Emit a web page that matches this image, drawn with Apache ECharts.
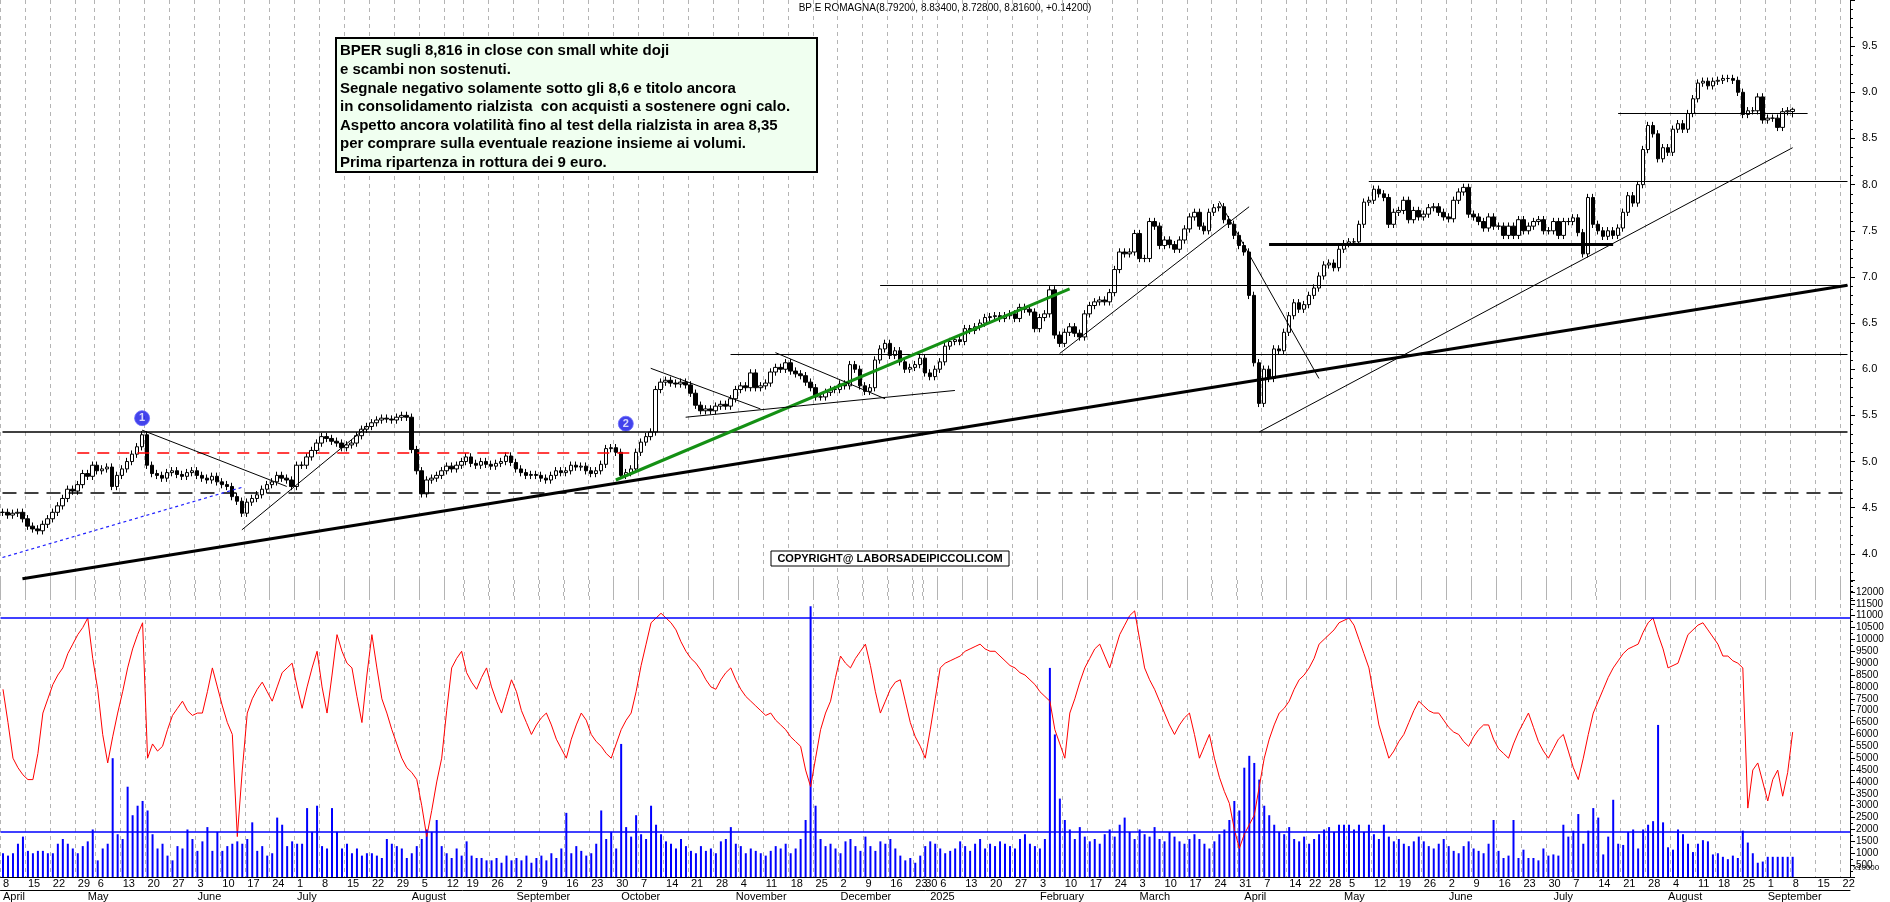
<!DOCTYPE html>
<html lang="it">
<head>
<meta charset="UTF-8">
<title>BP E ROMAGNA</title>
<script src="https://cdn.jsdelivr.net/npm/echarts@6/dist/echarts.min.js"></script>
<style>
  html, body { margin: 0; padding: 0; background: #fff; }
  #main { width: 1890px; height: 902px; }
</style>
</head>
<body>
<div id="main"></div>
<script>
// daily closes from 2024-04-08 to 2025-09-08
var closes = [
  4.45,4.42,4.44,4.45,4.38,4.30,4.27,4.25,4.32,4.38,
  4.45,4.52,4.60,4.70,4.68,4.75,4.87,4.84,4.96,4.90,
  4.92,4.94,4.73,4.85,4.92,5.00,5.08,5.16,5.29,4.96,
  4.87,4.85,4.82,4.88,4.90,4.86,4.84,4.88,4.90,4.85,
  4.82,4.80,4.84,4.78,4.75,4.73,4.62,4.57,4.44,4.56,
  4.60,4.64,4.70,4.75,4.78,4.85,4.82,4.80,4.73,4.96,
  4.96,5.05,5.12,5.20,5.27,5.25,5.22,5.20,5.15,5.18,
  5.20,5.28,5.35,5.38,5.42,5.45,5.47,5.46,5.45,5.48,
  5.50,5.48,5.13,4.90,4.65,4.80,4.82,4.85,4.90,4.95,
  4.92,4.96,5.00,5.05,4.98,4.96,5.00,4.97,4.95,4.98,
  5.00,5.06,4.99,4.92,4.88,4.85,4.86,4.85,4.82,4.80,
  4.85,4.90,4.88,4.90,4.96,4.94,4.95,4.90,4.87,4.90,
  4.97,5.14,5.15,5.10,4.85,4.88,4.92,5.10,5.21,5.27,
  5.32,5.78,5.86,5.88,5.85,5.84,5.86,5.83,5.74,5.61,
  5.55,5.57,5.55,5.60,5.62,5.60,5.68,5.78,5.82,5.80,
  5.96,5.80,5.82,5.85,5.97,6.02,6.00,6.07,5.98,5.95,
  5.93,5.86,5.80,5.70,5.70,5.75,5.78,5.78,5.84,5.82,
  6.05,6.00,5.82,5.76,5.80,6.10,6.22,6.28,6.15,6.20,
  6.08,6.00,6.02,6.05,6.12,5.96,5.92,6.00,6.08,6.25,
  6.30,6.32,6.30,6.44,6.42,6.46,6.50,6.56,6.57,6.58,
  6.55,6.58,6.60,6.55,6.67,6.65,6.62,6.44,6.56,6.60,
  6.86,6.37,6.28,6.40,6.46,6.39,6.35,6.60,6.69,6.73,
  6.75,6.73,6.83,7.08,7.27,7.25,7.27,7.47,7.20,7.20,
  7.60,7.55,7.34,7.40,7.35,7.30,7.40,7.52,7.65,7.70,
  7.55,7.50,7.70,7.75,7.76,7.62,7.57,7.45,7.34,7.27,
  6.80,6.07,5.63,6.00,5.90,6.22,6.20,6.40,6.58,6.72,
  6.65,6.70,6.80,6.88,7.01,7.13,7.15,7.10,7.30,7.36,
  7.38,7.38,7.57,7.81,7.83,7.95,7.90,7.86,7.57,7.70,
  7.72,7.83,7.62,7.72,7.65,7.68,7.75,7.76,7.70,7.65,
  7.63,7.83,7.92,7.97,7.68,7.65,7.60,7.53,7.65,7.55,
  7.55,7.45,7.55,7.45,7.62,7.50,7.55,7.60,7.62,7.50,
  7.50,7.60,7.45,7.60,7.60,7.64,7.48,7.25,7.86,7.57,
  7.50,7.44,7.50,7.45,7.53,7.70,7.88,7.80,8.00,8.38,
  8.64,8.55,8.28,8.40,8.35,8.60,8.66,8.60,8.77,8.93,
  9.10,9.12,9.07,9.12,9.13,9.15,9.15,9.13,9.00,8.76,
  8.80,8.80,8.95,8.70,8.72,8.72,8.62,8.79,8.80,8.816
];
// volumes, thousands (axis shows x10000)
var volumes = [
  1.0,0.9,1.0,1.4,1.7,1.1,1.0,1.1,1.1,1.0,
  1.0,1.4,1.6,1.4,1.2,1.0,1.3,1.5,2.0,0.7,
  1.2,1.4,5.0,1.8,1.6,3.8,2.6,3.0,3.2,2.8,
  1.8,1.2,1.4,0.9,0.7,1.3,1.2,2.0,1.6,1.1,
  1.5,2.1,1.1,1.9,1.1,1.3,1.4,1.5,1.4,1.6,
  2.3,1.1,1.3,0.9,1.0,2.5,2.2,1.3,1.5,1.4,
  1.4,2.9,1.9,3.0,1.3,1.2,2.9,1.9,1.2,1.4,
  1.0,1.2,0.9,1.0,1.0,0.9,0.8,1.6,1.4,1.3,
  1.2,0.8,1.0,1.3,1.6,2.0,1.9,2.4,1.3,1.0,
  0.8,1.2,0.9,1.5,0.9,0.8,0.8,0.7,0.7,0.8,
  0.6,0.9,0.7,0.8,0.7,0.9,0.6,0.8,0.9,0.7,
  1.0,0.8,1.2,2.7,1.0,1.3,1.1,0.9,1.0,1.4,
  2.8,1.6,1.9,1.2,5.6,2.1,1.7,2.6,1.8,1.6,
  3.0,2.2,1.8,1.5,1.4,1.2,1.6,1.3,1.1,1.0,
  1.3,1.1,1.2,1.0,1.5,1.6,2.1,1.4,1.3,1.0,
  1.2,1.1,1.0,0.9,1.1,1.3,1.2,1.4,1.0,1.2,
  1.6,2.4,11.4,3.0,1.6,1.3,1.4,1.2,1.0,1.5,
  1.6,1.3,1.1,1.7,1.3,1.1,1.5,1.4,1.6,1.2,
  0.9,0.7,0.8,0.6,0.9,1.3,1.5,1.4,1.2,1.0,
  1.1,1.2,1.5,1.3,1.1,1.4,1.6,1.2,1.4,1.3,
  1.5,1.4,1.3,1.2,1.6,1.8,1.4,1.3,1.2,1.6,
  8.8,6.0,3.3,2.4,2.0,1.6,2.1,1.7,1.5,1.6,
  1.4,1.8,2.0,1.7,2.2,2.5,1.9,1.6,2.0,1.8,
  1.7,2.1,1.6,1.5,1.9,1.7,1.5,1.4,1.6,1.8,
  1.6,1.4,1.2,1.5,1.8,2.0,2.4,3.2,2.8,4.6,
  5.1,4.8,4.1,3.0,2.6,2.2,1.9,1.8,2.1,1.6,
  1.5,1.7,1.4,1.6,1.8,2.0,2.1,1.9,2.2,2.2,
  2.2,2.0,2.2,1.9,2.2,1.8,1.6,2.2,1.7,1.5,
  1.6,1.4,1.3,1.5,1.7,1.5,1.3,1.2,1.4,1.6,
  1.3,1.1,1.0,1.3,1.5,1.2,1.1,1.0,1.4,2.4,
  1.1,0.8,0.9,2.4,0.8,1.15,0.8,0.8,0.7,1.2,
  0.9,0.95,0.9,2.2,1.7,1.95,2.65,1.4,1.95,2.9,
  2.5,0.95,1.7,3.25,1.4,1.35,1.9,2.0,1.2,2.0,
  2.2,2.35,6.4,2.3,1.25,1.15,2.0,1.8,1.4,1.05,
  1.4,1.55,1.5,0.95,1.0,0.85,0.75,0.9,0.8,1.95,
  1.45,1.0,0.6,0.65,0.85,0.85,0.85,0.85,0.85,0.85
];
// red oscillator, thousands on the volume scale
var oscillator = [
  7.9,6.5,5.0,4.6,4.3,4.1,4.1,5.2,6.9,7.5,
  8.1,8.5,8.8,9.4,9.8,10.2,10.5,10.9,9.2,7.9,
  6.0,4.8,5.9,6.9,7.8,8.8,9.6,10.2,10.7,5.0,
  5.6,5.3,5.5,6.2,6.8,7.1,7.4,7.0,6.8,6.9,
  6.9,7.8,8.8,8.0,7.2,6.5,6.0,1.7,4.5,6.9,
  7.5,7.9,8.2,7.8,7.4,8.0,8.6,8.8,9.0,8.0,
  7.1,8.0,8.8,9.5,8.0,6.9,8.5,10.2,9.5,9.0,
  8.8,7.6,6.5,8.5,10.2,8.8,7.5,6.9,6.2,5.6,
  5.0,4.6,4.4,4.1,3.0,1.7,2.8,4.0,5.0,7.0,
  8.8,9.2,9.5,8.6,8.2,7.9,8.4,8.8,8.0,7.4,
  6.9,7.6,8.3,7.8,7.0,6.5,6.0,6.4,6.7,6.9,
  6.4,5.8,5.4,5.0,5.8,6.4,6.9,6.6,6.0,5.7,
  5.5,5.2,5.0,5.6,6.2,6.6,6.9,7.8,8.9,9.8,
  10.7,10.9,11.1,10.9,10.7,10.4,9.9,9.5,9.2,9.0,
  8.7,8.3,8.0,7.9,8.3,8.6,8.8,8.3,7.9,7.6,
  7.4,7.2,7.0,6.8,6.9,6.6,6.4,6.2,5.9,5.7,
  5.5,4.5,3.8,5.0,6.2,6.9,7.4,8.4,9.3,9.0,
  8.8,9.2,9.5,9.8,8.9,7.8,6.9,7.4,7.9,8.2,
  8.3,7.4,6.5,5.9,5.5,5.0,6.2,7.5,8.8,9.0,
  9.1,9.2,9.3,9.5,9.6,9.7,9.8,9.6,9.5,9.5,
  9.3,9.1,8.9,8.8,8.6,8.5,8.3,8.1,7.8,7.6,
  7.4,6.2,5.6,5.0,6.9,7.5,8.2,8.8,9.2,9.6,
  9.8,9.3,8.8,9.5,10.2,10.6,11.0,11.2,10.0,8.8,
  8.3,7.9,7.4,6.9,6.4,6.0,6.4,6.7,6.9,6.0,
  5.0,5.5,6.0,5.0,4.2,3.6,3.1,2.0,1.2,1.8,
  2.2,2.6,3.8,5.0,5.8,6.4,6.9,7.1,7.4,7.9,
  8.3,8.5,8.8,9.2,9.8,10.0,10.2,10.4,10.7,10.8,
  10.9,10.6,10.0,9.4,8.8,7.6,6.4,5.7,5.0,5.3,
  5.7,6.0,6.5,7.0,7.4,7.2,7.0,6.9,6.9,6.6,
  6.3,6.1,6.0,5.7,5.5,5.9,6.2,6.4,6.4,5.8,
  5.4,5.2,5.0,5.6,6.1,6.5,6.9,6.3,5.7,5.3,
  5.0,5.4,5.8,6.0,5.3,4.6,4.1,5.0,6.0,6.9,
  7.4,7.9,8.4,8.8,9.1,9.4,9.6,9.7,9.8,10.3,
  10.7,10.9,10.2,9.6,8.8,8.9,9.0,9.6,10.2,10.4,
  10.6,10.7,10.4,10.1,9.8,9.3,9.3,9.1,9.0,8.8,
  2.9,4.5,4.8,4.0,3.2,4.1,4.5,3.4,4.4,6.1
];
var lastBar = { open: 8.792, high: 8.834, low: 8.728, close: 8.816 };
var holidays = ['2024-05-01','2024-08-15','2024-12-24','2024-12-25','2024-12-26','2024-12-31',
                '2025-01-01','2025-04-18','2025-04-21','2025-05-01','2025-08-15'];
var futureDays = 11;
var monthNames = ['January','February','March','April','May','June','July','August','September','October','November','December'];

// annotation levels and trendlines
var hLevels = [ // price, from, to, width, color, type
  [5.32, 0, 370, 1.5, '#000', 'solid'],
  [4.66, 0, 370, 1.5, '#000', [14, 8]],
  [5.10, 15, 126, 1.5, '#ff0000', [12, 8]],
  [6.16, 146, 370, 1, '#000', 'solid'],
  [6.91, 176, 370, 1, '#000', 'solid'],
  [7.35, 254, 323, 3, '#000', 'solid'],
  [8.04, 274, 370, 1, '#000', 'solid'],
  [8.77, 324, 362, 1, '#000', 'solid']
];
var trendLines = [ // x1, y1, x2, y2, width, color, type
  [4, 3.73, 370, 6.91, 3, '#000', 'solid'],
  [0, 3.96, 48, 4.72, 1.2, '#2020ff', [3, 3]],
  [123, 4.80, 214, 6.87, 3, '#149014', 'solid'],
  [28, 5.34, 57, 4.73, 1, '#000', 'solid'],
  [48, 4.26, 73, 5.37, 1, '#000', 'solid'],
  [130, 6.01, 152, 5.57, 1, '#000', 'solid'],
  [137, 5.48, 191, 5.77, 1, '#000', 'solid'],
  [155, 6.18, 177, 5.68, 1, '#000', 'solid'],
  [212, 6.17, 250, 7.76, 1, '#000', 'solid'],
  [244, 7.82, 264, 5.90, 1, '#000', 'solid'],
  [252, 5.32, 359, 8.40, 1, '#000', 'solid']
];
var markers = [[28, 5.47, '1'], [125, 5.41, '2']];
var volLevels = [10900, 1920];

// trading dates
var dates = [];
var d = new Date(Date.UTC(2024, 3, 8));
while (dates.length < closes.length + futureDays) {
    var wd = d.getUTCDay();
    var s = d.toISOString().slice(0, 10);
    var isFuture = dates.length >= closes.length;
    if (wd !== 0 && wd !== 6 && (isFuture || holidays.indexOf(s) < 0)) dates.push(s);
    d.setUTCDate(d.getUTCDate() + 1);
}
var weekStart = dates.map(function (s, i) {
    if (i === 0) return true;
    return new Date(s).getUTCDay() <= new Date(dates[i - 1]).getUTCDay();
});
var monthStart = dates.map(function (s, i) {
    return i === 0 || s.slice(5, 7) !== dates[i - 1].slice(5, 7);
});

var candles = closes.map(function (c, i) {
    if (i === closes.length - 1) return [lastBar.open, lastBar.close, lastBar.low, lastBar.high];
    var o = i === 0 ? c : closes[i - 1];
    return [o, c, Math.min(o, c) - 0.04, Math.max(o, c) + 0.04];
});

var priceLines = [];
hLevels.forEach(function (h) {
    priceLines.push([{ coord: [h[1], h[0]], lineStyle: { width: h[3], color: h[4], type: h[5] } },
                     { coord: [h[2], h[0]] }]);
});
trendLines.forEach(function (t) {
    priceLines.push([{ coord: [t[0], t[1]], lineStyle: { width: t[4], color: t[5], type: t[6] } },
                     { coord: [t[2], t[3]] }]);
});

var font = 'Liberation Sans';
var gridSplit = { show: true, interval: function (i) { return weekStart[i]; },
                  lineStyle: { color: '#b4b4b4', type: [4, 4], width: 1 } };

var myChart = echarts.init(document.getElementById('main'));
var option = {
    animation: false,
    backgroundColor: '#fff',
    textStyle: { fontFamily: font },
    grid: [
        { left: 0, right: 40, top: -26, height: 626 },
        { left: 0, right: 40, top: 580, bottom: 25 }
    ],
    xAxis: [
        { type: 'category', gridIndex: 0, data: dates, boundaryGap: true,
          axisLine: { show: false }, axisTick: { show: false }, axisLabel: { show: false },
          splitLine: gridSplit },
        { type: 'category', gridIndex: 1, data: dates, boundaryGap: true,
          axisLine: { lineStyle: { color: '#000' } },
          axisTick: { interval: function (i) { return weekStart[i]; }, length: 13, lineStyle: { color: '#000' } },
          axisLabel: { interval: function (i) { return weekStart[i]; }, margin: 1, align: 'left',
                       color: '#000', fontSize: 11, fontFamily: font,
                       formatter: function (v) { return String(parseInt(v.slice(8, 10), 10)); } },
          splitLine: gridSplit },
        { type: 'category', gridIndex: 1, data: dates, boundaryGap: true, position: 'bottom', offset: 13,
          axisLine: { lineStyle: { color: '#000' } },
          axisTick: { interval: function (i) { return monthStart[i]; }, length: 12, lineStyle: { color: '#000' } },
          axisLabel: { interval: function (i) { return monthStart[i]; }, margin: 1, align: 'left',
                       color: '#000', fontSize: 11, fontFamily: font,
                       formatter: function (v) {
                           var m = parseInt(v.slice(5, 7), 10);
                           return m === 1 ? v.slice(0, 4) : monthNames[m - 1];
                       } },
          splitLine: { show: false } }
    ],
    yAxis: [
        { type: 'value', gridIndex: 0, position: 'right', min: 3.5, max: 10, interval: 0.5,
          axisLine: { show: true, lineStyle: { color: '#000' } },
          axisTick: { show: true, length: 5, lineStyle: { color: '#000' } },
          minorTick: { show: true, splitNumber: 5, length: 3, lineStyle: { color: '#000' } },
          axisLabel: { color: '#000', fontSize: 11, fontFamily: font, margin: 12,
                       formatter: function (v) { return (v < 3.9 || v > 9.6) ? '' : v.toFixed(1); } },
          splitLine: { show: false } },
        { type: 'value', gridIndex: 1, position: 'right', min: 0, max: 12500, interval: 500,
          axisLine: { show: true, lineStyle: { color: '#000' } },
          axisTick: { show: true, length: 5, lineStyle: { color: '#000' } },
          minorTick: { show: true, splitNumber: 2, length: 3, lineStyle: { color: '#000' } },
          axisLabel: { color: '#000', fontSize: 10, fontFamily: font, margin: 6,
                       formatter: function (v) { return (v === 0 || v > 12000) ? '' : String(v); } },
          splitLine: { show: false } }
    ],
    series: [
        { type: 'candlestick', xAxisIndex: 0, yAxisIndex: 0, data: candles, barWidth: 4,
          itemStyle: { color: '#fff', color0: '#000', borderColor: '#000', borderColor0: '#000', borderWidth: 1 },
          markLine: { silent: true, symbol: ['none', 'none'], label: { show: false }, data: priceLines } },
        { type: 'scatter', xAxisIndex: 0, yAxisIndex: 0, symbolSize: 15,
          data: markers.map(function (m) { return [m[0], m[1], m[2]]; }),
          itemStyle: { color: '#1414e6', borderColor: '#6a6aff', borderWidth: 1 },
          label: { show: true, position: 'inside', color: '#fff', fontWeight: 'bold', fontSize: 11,
                   formatter: function (p) { return p.value[2]; } } },
        { type: 'bar', xAxisIndex: 1, yAxisIndex: 1, barWidth: 2,
          data: volumes.map(function (v) { return v * 1000; }),
          itemStyle: { color: '#0000ff' },
          markLine: { silent: true, symbol: ['none', 'none'], label: { show: false },
                      lineStyle: { color: '#0000ff', width: 1.5, type: 'solid' },
                      data: volLevels.map(function (v) { return { yAxis: v }; }) } },
        { type: 'line', xAxisIndex: 1, yAxisIndex: 1, showSymbol: false,
          data: oscillator.map(function (v) { return v * 1000; }),
          lineStyle: { color: '#ff0000', width: 1 } }
    ],
    graphic: [
        { type: 'text', left: 'center', top: 3,
          style: { text: 'BP E ROMAGNA(8.79200, 8.83400, 8.72800, 8.81600, +0.14200)',
                   font: '10px "Liberation Sans"', fill: '#000' } },
        { type: 'rect', shape: { x: 336, y: 38, width: 481, height: 134 },
          style: { fill: '#f0fff0', stroke: '#000', lineWidth: 2 }, z: 100 },
        { type: 'text', x: 340, y: 42, z: 101,
          style: { text: 'BPER sugli 8,816 in close con small white doji\ne scambi non sostenuti.\nSegnale negativo solamente sotto gli 8,6 e titolo ancora\nin consolidamento rialzista  con acquisti a sostenere ogni calo.\nAspetto ancora volatilità fino al test della rialzista in area 8,35\nper comprare sulla eventuale reazione insieme ai volumi.\nPrima ripartenza in rottura dei 9 euro.',
                   font: 'bold 15px "Liberation Sans"', lineHeight: 18.6, fill: '#000' } },
        { type: 'rect', shape: { x: 771, y: 551, width: 238, height: 15 },
          style: { fill: '#fff', stroke: '#000', lineWidth: 1 }, z: 100 },
        { type: 'text', x: 890, y: 558.5, z: 101,
          style: { text: 'COPYRIGHT@ LABORSADEIPICCOLI.COM', font: 'bold 11px "Liberation Sans"',
                   fill: '#000', textAlign: 'center', textVerticalAlign: 'middle' } },
        { type: 'text', x: 1853, y: 864, z: 101,
          style: { text: 'x10000', font: '8px "Liberation Sans"', fill: '#000' } }
    ]
};
myChart.setOption(option);
</script>
</body>
</html>
